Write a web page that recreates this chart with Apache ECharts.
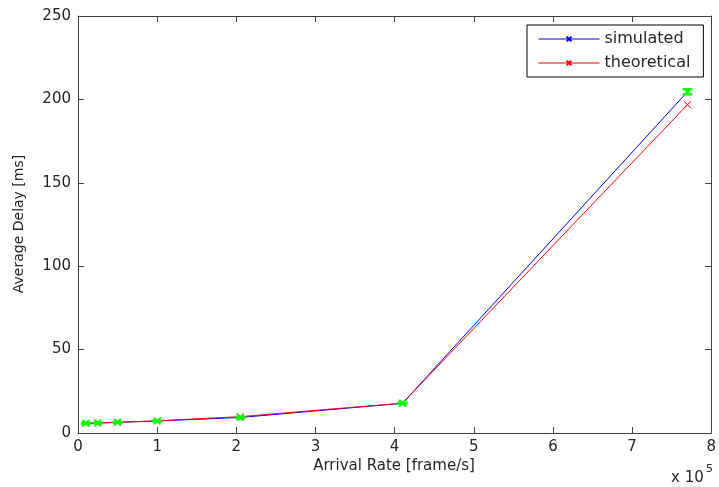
<!DOCTYPE html>
<html>
<head>
<meta charset="utf-8">
<script src="https://cdn.jsdelivr.net/npm/echarts@6/dist/echarts.min.js"></script>
<style>html,body{margin:0;padding:0;background:#fff}#c{width:719px;height:487px}</style>
</head>
<body>
<div id="c"></div>
<script>
// Data (x in units of 10^5 frame/s, y in ms)
const arrivalRate = [0.1, 0.25, 0.5, 1.0, 2.05, 4.1, 7.7];
const simulated   = [5.8, 6.0, 6.4, 7.2, 9.3, 17.8, 204.6];
const theoretical = [5.8, 6.0, 6.4, 7.3, 9.8, 17.9, 196.8];
const ciLow       = [5.4, 5.6, 6.0, 6.8, 8.8, 17.3, 203.0];
const ciHigh      = [6.2, 6.4, 6.8, 7.6, 9.8, 18.3, 206.2];
const xTicks = [0, 1, 2, 3, 4, 5, 6, 7, 8];
const yTicks = [0, 50, 100, 150, 200, 250];

const FONT = 'DejaVu Sans';
const TXT = '#262626';
const AX = '#404040';
const xMark = 'path://M0,0L10,10M10,0L0,10';

const chart = echarts.init(document.getElementById('c'), null, {renderer: 'canvas'});

const axisCommon = {
  axisLine: {show: true, onZero: false, lineStyle: {color: AX, width: 1}},
  axisTick: {show: true, inside: true, length: 6, lineStyle: {color: AX}},
  splitLine: {show: false}
};

chart.setOption({
  animation: false,
  grid: {left: 78, right: 5, top: 16, bottom: 54},
  legend: {
    orient: 'vertical',
    left: 527, top: 25,
    padding: [6, 13, 6, 11],
    itemWidth: 61, itemHeight: 6, itemGap: 8,
    lineStyle: {width: 1},
    backgroundColor: '#fff', borderColor: '#000', borderWidth: 1,
    textStyle: {fontFamily: FONT, fontSize: 16, color: TXT},
    data: ['simulated', 'theoretical']
  },
  xAxis: [
    Object.assign({}, axisCommon, {
      type: 'value', min: xTicks[0], max: xTicks[xTicks.length - 1], interval: 1,
      position: 'bottom',
      axisLabel: {fontFamily: FONT, fontSize: 15, color: TXT, margin: 7}
    }),
    Object.assign({}, axisCommon, {
      type: 'value', min: xTicks[0], max: xTicks[xTicks.length - 1], interval: 1,
      position: 'top', axisLabel: {show: false}
    })
  ],
  yAxis: [
    Object.assign({}, axisCommon, {
      type: 'value', min: yTicks[0], max: yTicks[yTicks.length - 1], interval: 50,
      position: 'left',
      axisLabel: {fontFamily: FONT, fontSize: 15, color: TXT, margin: 7}
    }),
    Object.assign({}, axisCommon, {
      type: 'value', min: yTicks[0], max: yTicks[yTicks.length - 1], interval: 50,
      position: 'right', axisLabel: {show: false}
    })
  ],
  graphic: [
    {
      type: 'text', x: 394, y: 466,
      style: {text: 'Arrival Rate [frame/s]', fontFamily: FONT, fontSize: 15, fill: TXT,
              textAlign: 'center', textVerticalAlign: 'middle'}
    },
    {
      type: 'text', x: 19, y: 224, rotation: Math.PI / 2,
      style: {text: 'Average Delay [ms]', fontFamily: FONT, fontSize: 14, fill: TXT,
              textAlign: 'center', textVerticalAlign: 'middle'}
    },
    {
      type: 'text', x: 671, y: 478,
      style: {text: 'x 10', fontFamily: FONT, fontSize: 15, fill: TXT,
              textAlign: 'left', textVerticalAlign: 'middle'}
    },
    {
      type: 'text', x: 706, y: 469,
      style: {text: '5', fontFamily: FONT, fontSize: 11, fill: TXT,
              textAlign: 'left', textVerticalAlign: 'middle'}
    }
  ],
  series: [
    {
      name: 'simulated', type: 'line',
      data: arrivalRate.map((x, i) => [x, simulated[i]]),
      symbol: xMark, symbolSize: 6,
      lineStyle: {color: '#0000ff', width: 1},
      itemStyle: {color: '#0000ff', borderColor: '#0000ff', borderWidth: 1},
      z: 2
    },
    {
      name: 'theoretical', type: 'line',
      data: arrivalRate.map((x, i) => [x, theoretical[i]]),
      symbol: xMark, symbolSize: 7,
      lineStyle: {color: '#ff0000', width: 1},
      itemStyle: {color: '#ff0000', borderColor: '#ff0000', borderWidth: 1},
      z: 3
    },
    {
      name: 'ci', type: 'custom',
      data: arrivalRate.map((x, i) => [x, ciLow[i], ciHigh[i]]),
      renderItem: function (params, api) {
        const x = api.value(0);
        const pH = api.coord([x, api.value(2)]);
        const pL = api.coord([x, api.value(1)]);
        const w = 5;
        const my = (pH[1] + pL[1]) / 2;
        const st = {stroke: '#00ff00', lineWidth: 2};
        return {
          type: 'group',
          children: [
            {type: 'line', shape: {x1: pH[0], y1: pH[1], x2: pL[0], y2: pL[1]}, style: st},
            {type: 'line', shape: {x1: pH[0] - w, y1: pH[1], x2: pH[0] + w, y2: pH[1]}, style: st},
            {type: 'line', shape: {x1: pL[0] - w, y1: pL[1], x2: pL[0] + w, y2: pL[1]}, style: st},
            {type: 'line', shape: {x1: pH[0] - 3, y1: my - 3, x2: pH[0] + 3, y2: my + 3}, style: st},
            {type: 'line', shape: {x1: pH[0] + 3, y1: my - 3, x2: pH[0] - 3, y2: my + 3}, style: st}
          ]
        };
      },
      z: 4
    }
  ]
});
</script>
</body>
</html>
